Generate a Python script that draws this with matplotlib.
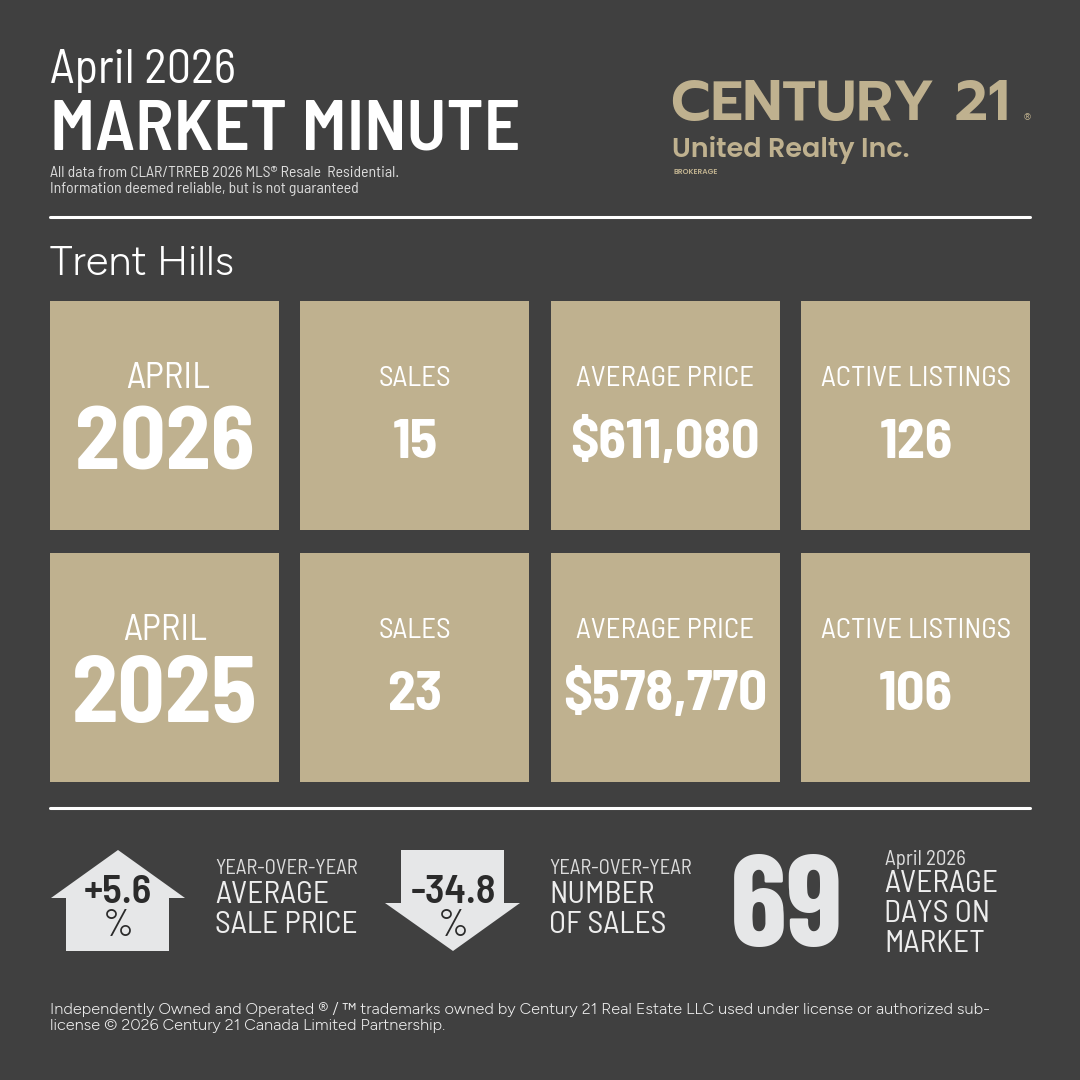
import matplotlib
matplotlib.use('Agg')
import matplotlib.pyplot as plt
from matplotlib.patches import Rectangle, Polygon

# values off the picture
years = ['2026', '2025']
sales = ['15', '23']
avg_price = ['$611,080', '$578,770']
active = ['126', '106']
yoy_price = '+5.6'
yoy_sales = '-34.8'
days_on_market = '69'

BG = '#404040'
TAN = '#BFB18F'
PALE = '#E6E7E8'
# Barlow is on this machine, the others are the fallback if it is not
SEMI = ['Barlow Semi Condensed', 'Liberation Sans', 'DejaVu Sans']
COND = ['Barlow Condensed', 'Liberation Sans', 'DejaVu Sans']
ROUND = ['Figtree', 'Lato', 'DejaVu Sans']
LOGO = ['Poppins', 'Lato', 'DejaVu Sans']
LOGO_WIDE = ['Prompt', 'Lato', 'DejaVu Sans']

fig = plt.figure(figsize=(10.8, 10.8), dpi=100, facecolor=BG)
ax = fig.add_axes([0, 0, 1, 1])
ax.set_xlim(0, 1080)
ax.set_ylim(1080, 0)
ax.axis('off')


def put(x, y, s, px, color='white', weight='normal', ha='left', family=SEMI):
    # y is the baseline in pixels, px the font size in pixels
    return ax.text(x, y, s, fontsize=px * 0.72, color=color, fontweight=weight,
                   ha=ha, va='baseline', family=family)


# header
put(50, 83, 'April 2026', 48)
put(50, 150, 'MARKET MINUTE', 72, weight='semibold')
put(50, 177, 'All data from CLAR/TRREB 2026 MLS® Resale  Residential.', 15.8, color='#DDDDDD')
put(50, 193, 'Information deemed reliable, but is not guaranteed', 15.8, color='#DDDDDD')

# logo
put(671, 120, 'CENTURY 21', 57, color=TAN, weight='semibold', family=LOGO_WIDE)
put(1023, 120, '®', 9, color=TAN, family=['DejaVu Sans'])
put(672, 157, 'United Realty Inc.', 27, color=TAN, weight='semibold', family=LOGO)
put(673, 174, 'BROKERAGE', 7.5, color=TAN, weight='semibold', family=LOGO)

for y in [217, 808]:
    ax.plot([50, 1030], [y, y], color='white', lw=2.2, solid_capstyle='round')

put(50, 275, 'Trent Hills', 41.5, family=ROUND)

# cards
card_x = [50, 300, 551, 801]
card_y = [301, 553]
card_w = 229
year_px = [90, 93]
for r, top in enumerate(card_y):
    for x in card_x:
        ax.add_patch(Rectangle((x, top), card_w, card_w, facecolor=TAN, edgecolor='none'))
    put(card_x[0] + 118 - 3 * r, top + 87, 'APRIL', 37, ha='center')
    put(card_x[0] + 115, top + 168 + r, years[r], year_px[r], weight='bold', ha='center')
    put(card_x[1] + 115, top + 85, 'SALES', 29, ha='center')
    put(card_x[1] + 115, top + 157, sales[r], 56, weight='bold', ha='center')
    put(card_x[2] + 114, top + 85, 'AVERAGE PRICE', 29, ha='center')
    put(card_x[2] + 114, top + 157, avg_price[r], 56 + r, weight='bold', ha='center')
    put(card_x[3] + 115, top + 85, 'ACTIVE LISTINGS', 29, ha='center')
    put(card_x[3] + 115, top + 157, active[r], 56, weight='bold', ha='center')

# arrows
ax.add_patch(Polygon([(118, 850), (185, 898), (169, 898), (169, 951), (66, 951), (66, 898), (51, 898)],
                     facecolor=PALE, edgecolor='none'))
ax.add_patch(Polygon([(401, 850), (504, 850), (504, 903), (520, 903), (453, 951), (385, 903), (401, 903)],
                     facecolor=PALE, edgecolor='none'))
put(118, 903, yoy_price, 41, color='#2B2B2B', weight='semibold', ha='center')
put(118, 936, '%', 38, color='#2B2B2B', ha='center')
put(453, 903, yoy_sales, 41, color='#2B2B2B', weight='semibold', ha='center')
put(453, 936, '%', 38, color='#2B2B2B', ha='center')

put(215, 874, 'YEAR-OVER-YEAR', 20.7, color='#DDDDDD')
put(215, 903, 'AVERAGE', 31.5, color='#EEEEEE')
put(215, 933, 'SALE PRICE', 31.5, color='#EEEEEE')
put(549, 874, 'YEAR-OVER-YEAR', 20.7, color='#DDDDDD')
put(549, 903, 'NUMBER', 31.5, color='#EEEEEE')
put(549, 933, 'OF SALES', 31.5, color='#EEEEEE')

put(787, 946, days_on_market, 130, color=PALE, weight='bold', ha='center', family=COND)
put(885, 865, 'April 2026', 21, color='#DDDDDD')
put(884, 892, 'AVERAGE', 31.5, color='#EEEEEE')
put(884, 922, 'DAYS ON', 31.5, color='#EEEEEE')
put(884, 952, 'MARKET', 31.5, color='#EEEEEE')

# footer
put(50, 1014, 'Independently Owned and Operated ® / ™ trademarks owned by Century 21 Real Estate LLC used under license or authorized sub-',
    16.25, color='#EEEEEE', family=ROUND)
put(50, 1030, 'license © 2026 Century 21 Canada Limited Partnership.', 16.25, color='#EEEEEE', family=ROUND)

fig.savefig('out.png', dpi=100, facecolor=BG)
